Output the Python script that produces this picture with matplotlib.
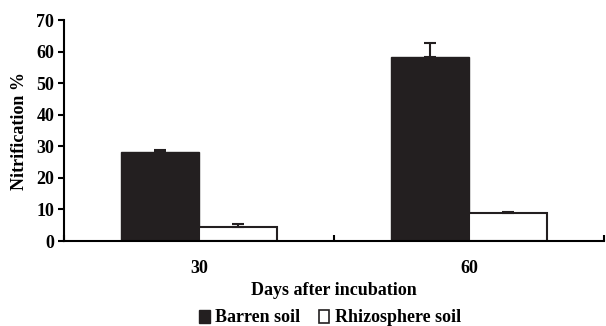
import numpy as np
import matplotlib
matplotlib.use('Agg')
import matplotlib.pyplot as plt
from matplotlib.patches import Patch

plt.rcParams['font.family'] = 'Liberation Serif'
plt.rcParams['font.weight'] = 'bold'

# nitrification data
dias = ['30', '60']
barren = [28.2, 58.3]
barren_err = [0.6, 4.4]
rizosfera = [4.4, 8.8]
rizosfera_err = [1.1, 0.3]

fig = plt.figure(figsize=(6.06, 3.26), dpi=100)
ax = fig.add_axes([64/606, 85/326, 540/606, 221/326])

x = np.arange(len(dias))
largura = 0.29
ax.bar(x - largura/2, barren, largura, color='#231f20', edgecolor='#231f20', linewidth=1,
       yerr=[np.zeros(2), barren_err], error_kw=dict(ecolor='#231f20', elinewidth=1.5, capsize=4, capthick=1.5),
       label='Barren soil')
ax.bar(x + largura/2, rizosfera, largura, color='white', edgecolor='#231f20', linewidth=1.5,
       yerr=[np.zeros(2), rizosfera_err], error_kw=dict(ecolor='#231f20', elinewidth=1.5, capsize=4, capthick=1.5),
       label='Rhizosphere soil')

ax.set_xlim(-0.5, 1.5)
ax.set_ylim(0, 70)
ax.set_yticks(range(0, 71, 10))
ax.set_xticks([-0.5, 0.5, 1.5])
ax.set_xticklabels([])
ax.set_xticks(x, minor=True)
ax.set_xticklabels(dias, minor=True, fontweight='bold')
ax.set_yticklabels([str(v) for v in range(0, 71, 10)], fontweight='bold')
ax.tick_params(axis='x', which='minor', length=0, pad=14, labelsize=13)
ax.tick_params(axis='x', which='major', direction='in', length=4, width=1.5)
ax.tick_params(axis='y', direction='out', length=4, width=1.5, labelsize=13, pad=3)

for lado in ['top', 'right']:
    ax.spines[lado].set_visible(False)
for lado in ['left', 'bottom']:
    ax.spines[lado].set_linewidth(1.5)

ax.set_ylabel('Nitrification %', fontsize=13, fontweight='bold', labelpad=6)
ax.set_xlabel('Days after incubation', fontsize=13, fontweight='bold', labelpad=3)

handles = [Patch(facecolor='#231f20', edgecolor='#231f20'),
           Patch(facecolor='white', edgecolor='#231f20', linewidth=1.2)]
fig.legend(handles, ['Barren soil', 'Rhizosphere soil'], loc='center', bbox_to_anchor=(330/606, 8/326),
           ncol=2, frameon=False, handlelength=0.6, handleheight=0.7,
           handletextpad=0.3, columnspacing=1.0, prop={'weight': 'bold', 'size': 13})

fig.savefig('out.png', dpi=100)
